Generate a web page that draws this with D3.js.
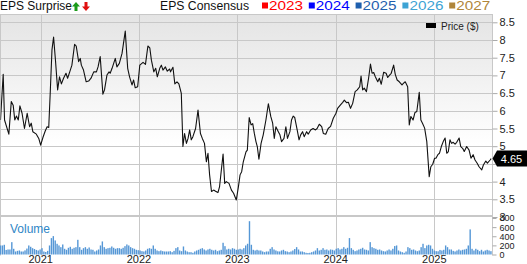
<!DOCTYPE html>
<html>
<head>
<meta charset="utf-8">
<script src="https://cdn.jsdelivr.net/npm/d3@7"></script>
<style>
body{margin:0;background:#fff}
svg{display:block;font-family:"Liberation Sans",Arial,sans-serif}
</style>
</head>
<body>
<svg id="chart" width="527" height="264"></svg>
<script>
// weekly-ish closes
var priceDates=["2020-08-05","2020-08-15","2020-08-20","2020-09-05","2020-09-14","2020-09-21","2020-09-27","2020-10-03","2020-10-10","2020-10-16","2020-10-24","2020-11-02","2020-11-12","2020-11-21","2020-11-27","2020-12-03","2020-12-16","2020-12-25",
"2021-01-01","2021-01-10","2021-01-18","2021-01-25","2021-01-31","2021-02-06","2021-02-12","2021-02-18","2021-02-25","2021-03-05","2021-03-12","2021-03-19","2021-03-27","2021-04-05","2021-04-11","2021-04-19","2021-04-27","2021-05-07","2021-05-13","2021-05-22","2021-05-28","2021-06-01","2021-06-09","2021-06-19","2021-06-28","2021-07-07","2021-07-17","2021-07-27","2021-08-02","2021-08-10","2021-08-20","2021-08-26","2021-09-04","2021-09-12","2021-09-16","2021-09-23","2021-09-29","2021-10-05","2021-10-11","2021-10-20","2021-10-30","2021-11-11","2021-11-20","2021-11-27","2021-12-06","2021-12-12","2021-12-18","2021-12-27",
"2022-01-04","2022-01-16","2022-01-25","2022-02-03","2022-02-10","2022-02-16","2022-02-25","2022-03-04","2022-03-10","2022-03-19","2022-03-25","2022-03-31","2022-04-09","2022-04-16","2022-04-25","2022-04-28","2022-05-07","2022-05-14","2022-05-22","2022-05-29","2022-06-07","2022-06-13","2022-06-19","2022-06-26","2022-07-02","2022-07-08","2022-07-14","2022-07-20","2022-07-30","2022-08-08","2022-08-17","2022-08-24","2022-09-01","2022-09-08","2022-09-14","2022-09-20","2022-09-27","2022-10-05","2022-10-12","2022-10-21","2022-10-27","2022-11-09","2022-11-15","2022-11-21","2022-12-01","2022-12-10","2022-12-18","2022-12-28",
"2023-01-05","2023-01-11","2023-01-17","2023-01-23","2023-02-02","2023-02-07","2023-02-14","2023-02-21","2023-02-27","2023-03-05","2023-03-11","2023-03-16","2023-03-22","2023-03-30","2023-04-07","2023-04-17","2023-04-26","2023-05-05","2023-05-12","2023-05-18","2023-05-24","2023-06-02","2023-06-08","2023-06-14","2023-06-23","2023-06-30","2023-07-06","2023-07-15","2023-07-21","2023-07-27","2023-08-02","2023-08-11","2023-08-18","2023-08-24","2023-08-31","2023-09-06","2023-09-15","2023-09-21","2023-09-30","2023-10-09","2023-10-18","2023-10-24","2023-11-01","2023-11-10","2023-11-16","2023-11-25","2023-12-04","2023-12-13","2023-12-23",
"2024-01-02","2024-01-08","2024-01-18","2024-01-27","2024-02-02","2024-02-10","2024-02-17","2024-02-25","2024-03-04","2024-03-13","2024-03-21","2024-03-30","2024-04-04","2024-04-10","2024-04-16","2024-04-24","2024-05-02","2024-05-09","2024-05-15","2024-05-21","2024-05-27","2024-06-05","2024-06-11","2024-06-18","2024-06-27","2024-07-06","2024-07-12","2024-07-19","2024-07-25","2024-08-03","2024-08-09","2024-08-16","2024-08-24","2024-09-03","2024-09-09","2024-09-15","2024-09-24","2024-09-30","2024-10-06","2024-10-14","2024-10-21","2024-10-28","2024-11-06","2024-11-12","2024-11-18","2024-11-26","2024-12-04","2024-12-13","2024-12-19","2024-12-26",
"2025-01-02","2025-01-07","2025-01-14","2025-01-20","2025-01-27","2025-02-03","2025-02-10","2025-02-16","2025-02-22","2025-02-28","2025-03-06","2025-03-12","2025-03-19","2025-03-25","2025-04-03","2025-04-09","2025-04-16","2025-04-22","2025-05-01","2025-05-10","2025-05-17","2025-05-25","2025-06-01","2025-06-09","2025-06-16","2025-06-26","2025-07-02","2025-07-11","2025-07-17","2025-07-27","2025-07-31"];
var priceValues=[5.74,7.03,5.74,5.34,6.26,6.16,5.74,5.85,5.74,6.14,5.93,5.50,5.93,5.55,5.65,5.41,5.34,5.22,
5.03,5.26,5.43,5.55,5.53,6.59,7.72,8.08,7.43,6.59,6.96,6.76,6.92,7.06,6.92,7.10,7.29,7.88,7.83,7.39,7.48,7.29,7.15,6.82,6.84,6.92,7.10,7.10,7.24,7.53,6.47,6.59,7.01,7.10,7.06,7.20,7.34,7.48,7.24,7.34,7.62,8.25,7.20,6.96,6.73,6.87,6.65,6.68,
7.29,7.37,7.31,7.83,7.78,7.43,7.10,7.20,6.96,7.20,7.29,7.15,7.24,7.12,7.18,7.10,7.23,6.76,6.82,6.76,6.49,4.99,5.36,5.08,5.22,5.46,5.18,5.27,5.50,6.02,5.36,5.22,5.08,4.56,4.80,4.19,3.72,3.76,3.73,3.69,3.86,4.78,3.95,4.00,3.95,3.76,3.67,3.48,
3.86,4.19,4.28,4.56,4.84,4.89,5.81,5.60,5.64,5.36,5.13,4.99,4.63,5.08,5.32,5.74,6.20,5.84,5.65,5.22,5.55,5.41,5.32,5.13,5.22,5.55,5.22,5.41,5.74,5.85,5.81,5.46,5.18,5.32,5.41,5.27,5.41,5.34,5.46,5.50,5.46,5.50,5.62,5.55,5.36,5.34,5.50,5.56,5.79,
5.93,6.07,6.16,6.24,6.30,6.23,6.24,6.07,6.21,6.54,6.59,6.68,6.98,6.59,6.64,6.54,6.92,7.32,7.06,7.08,6.96,6.82,6.92,6.75,7.09,7.06,6.94,7.01,7.06,7.29,7.03,6.87,6.82,6.73,6.78,6.82,6.68,5.60,5.84,5.74,5.95,5.98,6.52,5.74,5.65,5.51,5.13,4.14,4.42,4.49,
4.66,4.66,4.76,4.80,4.99,5.13,5.23,4.80,4.85,5.18,5.08,5.11,5.06,5.11,5.23,4.99,4.94,4.85,4.99,4.89,4.66,4.76,4.61,4.52,4.42,4.33,4.47,4.58,4.52,4.61,4.65];

// weekly volume (thousands), first bar in the week of volumeStart
var volumeStart="2020-08-05";
var volumeValues=[198,198,213,100,110,110,271,125,66,80,88,66,66,90,130,198,169,139,120,100,88,110,139,66,55,80,198,359,403,308,
235,198,161,220,125,103,147,169,125,147,161,322,161,103,139,161,125,154,110,103,66,88,110,198,286,161,125,139,147,176,
147,125,139,139,125,147,183,220,198,161,139,125,103,95,88,73,66,88,125,139,125,198,125,88,73,88,73,66,66,66,
73,51,80,139,161,88,73,176,88,66,51,51,37,66,88,103,125,139,110,88,110,125,103,88,103,73,88,103,257,183,
110,125,110,139,125,103,110,125,110,139,198,235,730,213,103,88,103,88,88,66,51,66,66,125,161,110,88,70,66,88,
103,73,66,51,66,88,120,161,110,66,66,51,37,33,37,51,66,88,139,88,103,139,103,110,88,110,103,88,125,139,
110,125,161,125,147,360,139,103,73,88,110,125,147,110,103,88,271,161,139,125,103,110,88,73,66,88,110,88,125,185,
198,88,66,51,37,66,161,139,103,110,88,73,88,161,235,140,198,213,198,125,88,73,70,100,88,103,198,161,110,110,
80,66,88,110,88,103,110,125,198,550,125,88,125,103,73,103,66,88,103,88,73];

var priceTicks=[3,3.5,4,4.5,5,5.5,6,6.5,7,7.5,8,8.5];
var volumeTicks=[0,200,400,600,800];
var yearTicks=["2021","2022","2023","2024","2025"];
var legendYears=["2023","2024","2025","2026","2027"];
var legendColors=["#ff0000","#0000ff","#1f5fae","#3da3d4","#b0863a"];
var lastPrice=4.65;

var W=527, L=0.5, R=492, top0=14, priceBottom=216, volBottom=254.5;
var parse=d3.timeParse("%Y-%m-%d");
var svg=d3.select("#chart");

var x=d3.scaleTime()
    .domain([parse("2020-08-05"),parse("2025-08-03")])
    .range([L,R]);
var y=d3.scaleLinear().domain([3.5,8.5]).range([199.3,22.3]);
var yv=d3.scaleLinear().domain([0,800]).range([volBottom,218]);

var defs=svg.append("defs");
var grad=defs.append("linearGradient").attr("id","bg").attr("x1",0).attr("y1",0).attr("x2",0).attr("y2",1);
grad.append("stop").attr("offset","0%").attr("stop-color","#e4e4e4");
grad.append("stop").attr("offset","65%").attr("stop-color","#ffffff");
defs.append("clipPath").attr("id","clipP").append("rect")
    .attr("x",L).attr("y",top0).attr("width",R-L).attr("height",priceBottom-top0);

// panel background
svg.append("rect").attr("x",L).attr("y",top0).attr("width",R-L).attr("height",priceBottom-top0).attr("fill","url(#bg)");

// horizontal grid (price)
svg.append("g").selectAll("line").data(priceTicks.filter(function(d){return d>=3.5;})).enter().append("line")
    .attr("x1",L).attr("x2",R)
    .attr("y1",function(d){return Math.round(y(d))+0.5;})
    .attr("y2",function(d){return Math.round(y(d))+0.5;})
    .attr("stroke","#c8c8c8").attr("stroke-width",1);

// vertical year grid
svg.append("g").selectAll("line").data(yearTicks).enter().append("line")
    .attr("x1",function(d){return Math.round(x(parse(d+"-01-01")))+0.5;})
    .attr("x2",function(d){return Math.round(x(parse(d+"-01-01")))+0.5;})
    .attr("y1",top0).attr("y2",volBottom+1)
    .attr("stroke","#c8c8c8").attr("stroke-width",1);

// frame lines
svg.append("line").attr("x1",L).attr("x2",R).attr("y1",top0+0.5).attr("y2",top0+0.5).attr("stroke","#c8c8c8");
svg.append("line").attr("x1",L).attr("x2",R).attr("y1",priceBottom).attr("y2",priceBottom).attr("stroke","#c8c8c8").attr("stroke-width",2);
svg.append("line").attr("x1",L).attr("x2",L).attr("y1",top0).attr("y2",volBottom+1).attr("stroke","#c8c8c8");
svg.append("line").attr("x1",R+0.5).attr("x2",R+0.5).attr("y1",top0).attr("y2",volBottom+1).attr("stroke","#c8c8c8");

// volume bars
var v0=parse(volumeStart);
svg.append("g").selectAll("rect").data(volumeValues).enter().append("rect")
    .attr("x",function(d,i){return x(d3.timeDay.offset(v0,7*i))-0.7;})
    .attr("width",1.4)
    .attr("y",function(d){return yv(d);})
    .attr("height",function(d){return volBottom-yv(d);})
    .attr("fill","#5597d6");
svg.append("text").attr("x",10).attr("y",233).attr("font-size",12).attr("fill","#2f86c6").text("Volume");

// price line
var pts=priceDates.map(function(d,i){return [parse(d),priceValues[i]];});
svg.append("path").datum(pts)
    .attr("clip-path","url(#clipP)")
    .attr("d",d3.line().x(function(d){return x(d[0]);}).y(function(d){return y(d[1]);}))
    .attr("fill","none").attr("stroke","#111").attr("stroke-width",1.1).attr("stroke-linejoin","round");

// right axes; labels hidden behind the last-price tag are dropped, as in the source
var ly=y(lastPrice);
var axP=svg.append("g").attr("transform","translate("+(R+0.5)+",0)")
    .call(d3.axisRight(y).tickValues(priceTicks).tickSize(5).tickFormat(d3.format("")));
var axV=svg.append("g").attr("transform","translate("+(R+0.5)+",0)")
    .call(d3.axisRight(yv).tickValues(volumeTicks).tickSize(4).tickFormat(d3.format("d")));
[axP,axV].forEach(function(a){
  a.select(".domain").remove();
  a.selectAll("line").attr("stroke","#aaa");
  a.selectAll("text").attr("fill","#222").attr("font-family","Liberation Sans, Arial, sans-serif").attr("x",7);
});
axP.selectAll("text").attr("font-size",11);
axP.selectAll(".tick").filter(function(d){return Math.abs(y(d)-ly)<9;}).select("text").remove();
axV.selectAll("text").attr("font-size",9);

// bottom year labels
svg.append("g").selectAll("text").data(yearTicks).enter().append("text")
    .attr("x",function(d){return x(parse(d+"-01-01"));})
    .attr("y",263).attr("text-anchor","middle").attr("font-size",11).attr("fill","#222")
    .text(function(d){return d;});

// last price marker
svg.append("path")
    .attr("d","M"+(R+0.5)+","+ly+" L"+(R+5)+","+(ly-8)+" L"+W+","+(ly-8)+" L"+W+","+(ly+8)+" L"+(R+5)+","+(ly+8)+"Z")
    .attr("fill","#000");
svg.append("text").attr("x",511.5).attr("y",ly+4).attr("text-anchor","middle").attr("font-size",11).attr("fill","#fff").text(lastPrice.toFixed(2));

// price legend
svg.append("rect").attr("x",426).attr("y",23).attr("width",10).attr("height",5).attr("fill","#000");
svg.append("text").attr("x",441).attr("y",29.5).attr("font-size",10).attr("fill","#222").text("Price ($)");

// header
svg.append("text").attr("x",0).attr("y",10).attr("font-size",12).attr("fill","#111")
    .attr("textLength",72).attr("lengthAdjust","spacingAndGlyphs").text("EPS Surprise");
svg.append("path").attr("d","M76,2 L80,6.5 L77.5,6.5 L77.5,11 L74.5,11 L74.5,6.5 L72,6.5Z").attr("fill","#1a9a1a");
svg.append("path").attr("d","M86,11 L90,6.5 L87.5,6.5 L87.5,2 L84.5,2 L84.5,6.5 L82,6.5Z").attr("fill","#e01010");
svg.append("text").attr("x",160).attr("y",10).attr("font-size",12).attr("fill","#111")
    .attr("textLength",89).attr("lengthAdjust","spacingAndGlyphs").text("EPS Consensus");
var lg=svg.append("g").selectAll("g").data(legendYears).enter().append("g")
    .attr("transform",function(d,i){return "translate("+(262+i*46.8)+",0)";});
lg.append("rect").attr("x",0).attr("y",2.5).attr("width",6).attr("height",6)
    .attr("fill",function(d,i){return legendColors[i];});
lg.append("text").attr("x",7).attr("y",10).attr("font-size",12)
    .attr("textLength",34).attr("lengthAdjust","spacingAndGlyphs")
    .attr("fill",function(d,i){return legendColors[i];}).text(function(d){return d;});
</script>
</body>
</html>
